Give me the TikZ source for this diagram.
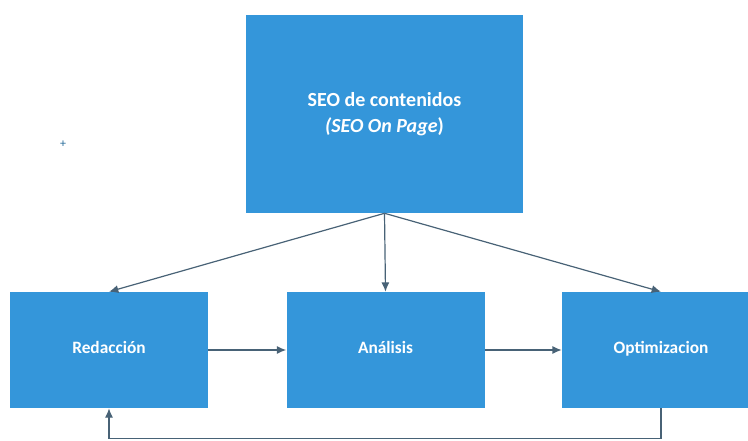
\documentclass[tikz,border=0pt]{standalone}
\usepackage{fontspec}
\setmainfont{Carlito}
\usetikzlibrary{arrows.meta}
\definecolor{boxblue}{RGB}{52,150,218}
\definecolor{linkgray}{RGB}{72,98,118}
\begin{document}
\begin{tikzpicture}[x=0.75pt, y=-0.75pt,
  box/.style={rectangle, fill=boxblue, text=white, font=\bfseries\fontsize{13}{16}\selectfont,
    align=center, inner sep=0pt, minimum width=148.5pt, minimum height=87pt},
  lowbox/.style={box, text height=1.5ex, text depth=0.4ex},
  link/.style={draw=linkgray, line width=0.9pt, -{Latex[length=7pt, width=6pt]}}]
  \useasboundingbox (0,0) rectangle (748,440);
  \node[box, minimum width=207.75pt, minimum height=148.5pt, font=\bfseries\fontsize{15}{20}\selectfont] (seo) at (384.5,114) {SEO de contenidos\\\textit{(SEO On Page})};
  \node[lowbox] (redaccion) at (109,350) {Redacción};
  \node[lowbox] (analisis) at (385.5,350) {Análisis};
  \node[lowbox] (optimizacion) at (661,350) {Optimizacion};
  \node[text=boxblue!70!black, font=\small, inner sep=0pt] (mark) at (63,144) {+};
  \foreach \t in {redaccion, analisis, optimizacion} {
    \draw[link] (seo.south) -- (\t.north);
  }
  \draw[link] (redaccion.east) -- (analisis.west);
  \draw[link] (analisis.east) -- (optimizacion.west);
  \draw[link] (optimizacion.south) -- ++(0,30) -| (redaccion.south);
\end{tikzpicture}
\end{document}
